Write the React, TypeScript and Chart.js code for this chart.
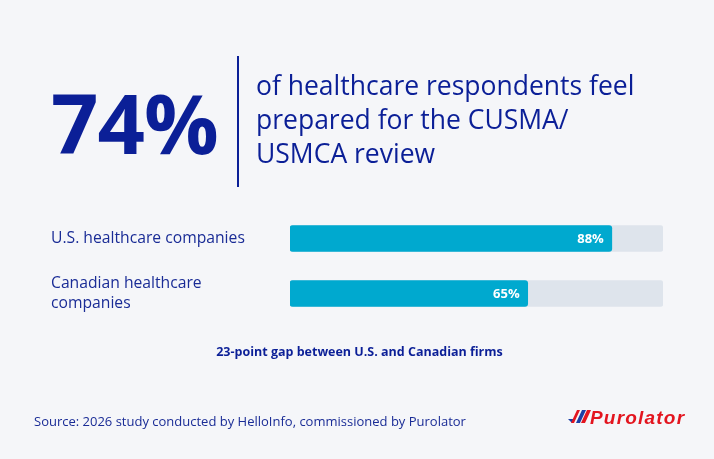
import React, { useEffect, useRef } from "react";
import { Chart, registerables } from "chart.js";

Chart.register(...registerables);

// Survey results: share of respondents who feel prepared, by company group
const categories: (string | string[])[] = [
  "U.S. healthcare companies",
  ["Canadian healthcare", "companies"],
];
const shares = [88, 65];
const AXIS_MAX = 102;
const trackValues = [AXIS_MAX, AXIS_MAX];

const headlineValue = "74%";
const headlineLines = [
  "of healthcare respondents feel",
  "prepared for the CUSMA/",
  "USMCA review",
];
const gapNote = "23-point gap between U.S. and Canadian firms";
const sourceNote =
  "Source: 2026 study conducted by HelloInfo, commissioned by Purolator";
const brandName = "Purolator";

const FONT = "'Open Sans', 'Noto Sans', sans-serif";
const NAVY = "#0b1f97";
const TEXT_BLUE = "#1a2c96";
const BAR_BLUE = "#00a9cf";
const TRACK = "#dee4ec";
const BG = "#f5f6f9";

const valueLabels = {
  id: "valueLabels",
  afterDatasetsDraw(chart: any) {
    const meta = chart.getDatasetMeta(0);
    const ctx = chart.ctx;
    ctx.save();
    ctx.fillStyle = "#ffffff";
    ctx.font = `bold 13px ${FONT}`;
    ctx.textAlign = "right";
    ctx.textBaseline = "middle";
    meta.data.forEach((bar: any, i: number) => {
      ctx.fillText(`${shares[i]}%`, bar.x - 8, bar.y + 0.5);
    });
    ctx.restore();
  },
};

export default function App() {
  const canvasRef = useRef<HTMLCanvasElement | null>(null);

  useEffect(() => {
    if (!canvasRef.current) return;
    const chart = new Chart(canvasRef.current, {
      type: "bar",
      data: {
        labels: categories as any,
        datasets: [
          {
            data: shares,
            backgroundColor: BAR_BLUE,
            barThickness: 26,
            borderRadius: 3,
            borderSkipped: false,
            grouped: false,
          } as any,
          {
            data: trackValues,
            backgroundColor: TRACK,
            barThickness: 26,
            borderRadius: 3,
            borderSkipped: false,
            grouped: false,
          } as any,
        ],
      },
      options: {
        indexAxis: "y",
        responsive: false,
        animation: false,
        devicePixelRatio: 1,
        layout: { padding: { left: 51, right: 51, top: 211, bottom: 138 } },
        plugins: { legend: { display: false }, tooltip: { enabled: false } },
        scales: {
          x: { display: false, min: 0, max: AXIS_MAX },
          y: {
            afterFit: (scale: any) => {
              scale.width = 239;
            },
            grid: { display: false },
            border: { display: false },
            ticks: {
              crossAlign: "far",
              padding: 0,
              color: TEXT_BLUE,
              font: { family: FONT, size: 15.7, lineHeight: 1.3 },
            },
          },
        },
      },
      plugins: [valueLabels],
    } as any);
    return () => chart.destroy();
  }, []);

  const abs = (s: React.CSSProperties): React.CSSProperties => ({
    position: "absolute",
    margin: 0,
    whiteSpace: "nowrap",
    fontFamily: FONT,
    ...s,
  });

  return (
    <div
      style={{
        position: "fixed",
        left: 0,
        top: 0,
        width: 714,
        height: 459,
        background: BG,
        overflow: "hidden",
      }}
    >
      <canvas
        ref={canvasRef}
        width={714}
        height={459}
        style={{ position: "absolute", left: 0, top: 0, width: 714, height: 459 }}
      />
      <div
        style={abs({
          left: 51,
          top: 79.5,
          fontSize: 83,
          lineHeight: "83px",
          fontWeight: 700,
          color: NAVY,
          letterSpacing: -1,
        })}
      >
        {headlineValue}
      </div>
      <div
        style={abs({ left: 237, top: 56, width: 2, height: 131, background: NAVY })}
      />
      <div
        style={abs({
          left: 256,
          top: 67.5,
          fontSize: 26.5,
          lineHeight: "34px",
          color: NAVY,
        })}
      >
        {headlineLines.map((l, i) => (
          <div key={i}>{l}</div>
        ))}
      </div>
      <div
        style={abs({
          left: 0,
          width: 719,
          textAlign: "center",
          top: 343,
          fontSize: 12.5,
          lineHeight: "18px",
          fontWeight: 700,
          color: NAVY,
        })}
      >
        {gapNote}
      </div>
      <div
        style={abs({
          left: 34,
          top: 412,
          fontSize: 13,
          lineHeight: "18px",
          color: TEXT_BLUE,
        })}
      >
        {sourceNote}
      </div>
      <svg
        width={126}
        height={26}
        style={{ position: "absolute", left: 566, top: 404 }}
        viewBox="0 0 126 26"
      >
        <polygon points="2,15 9,15 6,19" fill="#1b3fa6" />
        <polygon points="11,6 14,6 8,19 5,19" fill="#e3151f" />
        <polygon points="16,6 20,6 14,19 10,19" fill="#1b3fa6" />
        <polygon points="21,6 25,6 19,19 15,19" fill="#e3151f" />
        <text
          x={24}
          y={19.5}
          fill="#e3151f"
          fontFamily="'Liberation Sans', Arial, sans-serif"
          fontStyle="italic"
          fontWeight={700}
          fontSize={19}
          letterSpacing={1.2}
        >
          {brandName}
        </text>
      </svg>
    </div>
  );
}
